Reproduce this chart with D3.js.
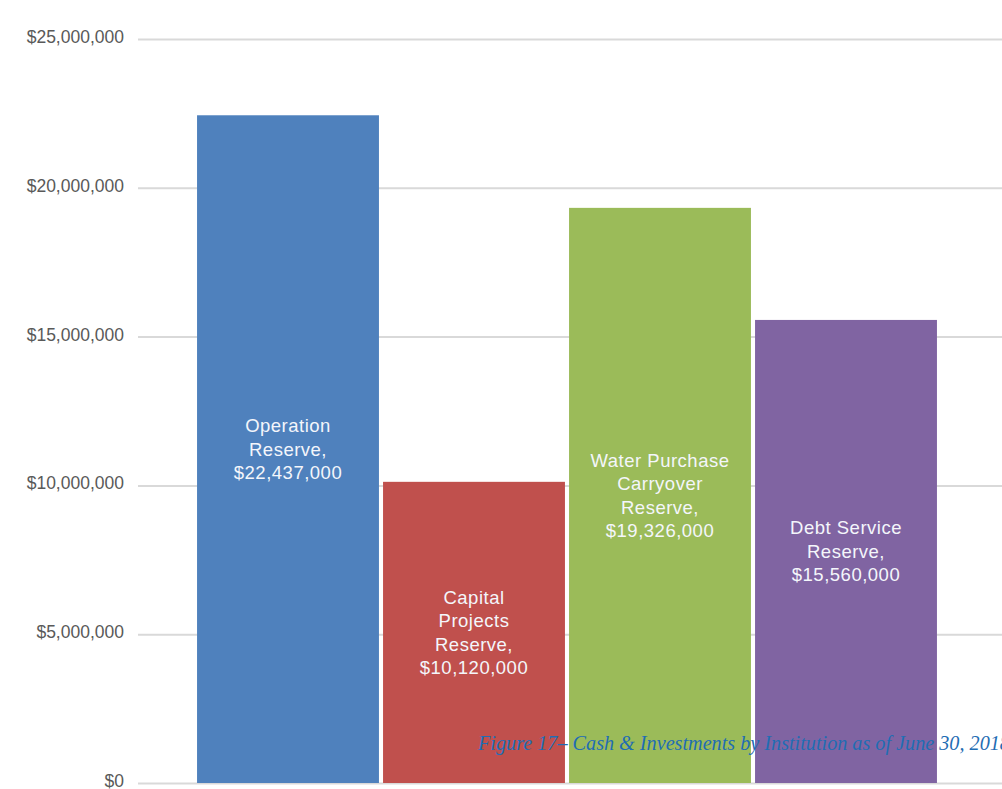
<!DOCTYPE html>
<html>
<head>
<meta charset="utf-8">
<script src="https://cdn.jsdelivr.net/npm/d3@7"></script>
<style>
  html, body { margin: 0; padding: 0; background: #ffffff; }
  svg { display: block; }
</style>
</head>
<body>
<svg id="chart" width="1002" height="789"></svg>
<script>
// Reserve balances
const categories = ["Operation Reserve", "Capital Projects Reserve", "Water Purchase Carryover Reserve", "Debt Service Reserve"];
const values = [22437000, 10120000, 19326000, 15560000];
const labelLines = [
  ["Operation", "Reserve,"],
  ["Capital", "Projects", "Reserve,"],
  ["Water Purchase", "Carryover", "Reserve,"],
  ["Debt Service", "Reserve,"]
];
const barColors = ["#4f81bd", "#c0504d", "#9bbb59", "#8064a2"];
const yTicks = [0, 5000000, 10000000, 15000000, 20000000, 25000000];
const caption = "Figure 17\u2013 Cash & Investments by Institution as of June 30, 2018";

const svg = d3.select("#chart");

const y = d3.scaleLinear().domain([0, 25000000]).range([783, 39]);
const x = d3.scaleBand().domain(categories).range([195, 939])
  .paddingInner(0.022).paddingOuter(0.011);

const money = v => "$" + d3.format(",")(v);

// Gridlines and value axis
const yAxis = d3.axisLeft(y).tickValues(yTicks).tickFormat(money)
  .tickSize(-(1002 - 138)).tickPadding(14);
const gAxis = svg.append("g").attr("transform", "translate(138,0)").call(yAxis);
gAxis.select(".domain").remove();
gAxis.selectAll(".tick line").attr("stroke", "#d9d9d9").attr("stroke-width", 2);
gAxis.selectAll(".tick text")
  .attr("fill", "#595959")
  .attr("font-family", "'Liberation Sans', Arial, sans-serif")
  .attr("font-size", 17.5)
  .attr("dy", "0.2em");

// Bars
svg.append("g").selectAll("rect").data(categories).join("rect")
  .attr("x", d => x(d))
  .attr("width", x.bandwidth())
  .attr("y", (d, i) => y(values[i]))
  .attr("height", (d, i) => y(0) - y(values[i]))
  .attr("fill", (d, i) => barColors[i]);

// In-bar labels, centred vertically in each bar
const lineH = 23.5;
categories.forEach((c, i) => {
  const lines = labelLines[i].concat([money(values[i])]);
  const cx = x(c) + x.bandwidth() / 2;
  const cy = (y(values[i]) + y(0)) / 2;
  const t = svg.append("text")
    .attr("text-anchor", "middle")
    .attr("fill", "#f4f6fb")
    .attr("font-family", "'Liberation Sans', Arial, sans-serif")
    .attr("font-size", 18.5)
    .attr("letter-spacing", 0.5);
  lines.forEach((ln, k) => {
    t.append("tspan")
      .attr("x", cx)
      .attr("y", cy + (k - (lines.length - 1) / 2) * lineH)
      .attr("dy", "0.35em")
      .text(ln);
  });
});

// Figure caption
svg.append("text")
  .attr("x", 478)
  .attr("y", 750)
  .attr("fill", "#1f6db4")
  .attr("font-family", "'Liberation Serif', 'Times New Roman', serif")
  .attr("font-style", "italic")
  .attr("font-size", 20.2)
  .text(caption);
</script>
</body>
</html>
